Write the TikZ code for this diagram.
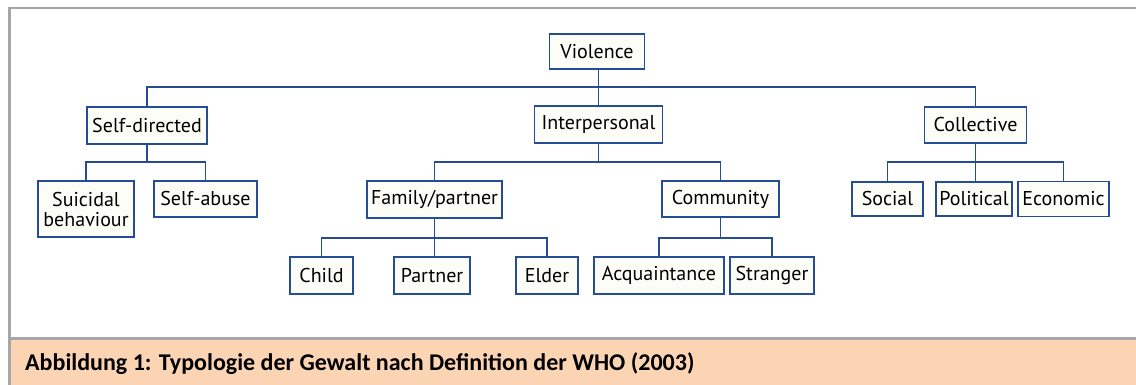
\documentclass[tikz,border=0pt]{standalone}
\usepackage{fontspec}
\setmainfont{PT Sans}
\newfontfamily\capfont{Carlito}
\definecolor{boxblue}{RGB}{38,76,150}
\definecolor{boxfill}{RGB}{253,253,247}
\definecolor{framegray}{RGB}{166,166,166}
\definecolor{peach}{RGB}{251,212,180}
\tikzset{
  tbox/.style 2 args={draw=boxblue, line width=1.8pt, fill=boxfill, inner sep=0pt,
    minimum width=#1, minimum height=#2, align=center,
    font=\fontsize{20}{20}\selectfont},
  conn/.style={draw=boxblue, line width=1.5pt},
}
\begin{document}
\begin{tikzpicture}[x=1pt,y=-1pt]
\useasboundingbox (0,0) rectangle (1136,385);
% frame and caption band
\fill[peach] (11,340) rectangle (1136,385);
\fill[framegray] (8,7) rectangle (1136,9);
\fill[framegray] (8,7) rectangle (11,385);
\fill[framegray] (11,337) rectangle (1136,340);
\node[anchor=base west, font=\capfont\bfseries\fontsize{24}{28}\selectfont, inner sep=0pt] (cap) at (25,370) {Abbildung 1: Typologie der Gewalt nach Definition der WHO (2003)};
% bus levels
\coordinate (b1) at (0,87);
\coordinate (b2) at (0,162);
\coordinate (b3) at (0,238);
% nodes
\node[tbox={95pt}{35pt}] (V) at (597,51.5) {Violence};
\node[tbox={120pt}{37pt}] (SD) at (147,125.5) {Self-directed};
\node[tbox={128pt}{37pt}] (IP) at (598.5,124.5) {Interpersonal};
\node[tbox={102pt}{36pt}] (CO) at (975.5,125) {Collective};
\node[tbox={96pt}{56pt}] (SB) at (86,209) {Suicidal\\behaviour};
\node[tbox={103pt}{36pt}] (SA) at (205.5,199) {Self-abuse};
\node[tbox={135pt}{37pt}] (FP) at (434.5,199.5) {Family/partner};
\node[tbox={117pt}{36pt}] (CM) at (720.5,199) {Community};
\node[tbox={71pt}{34pt}] (SO) at (887.5,199) {Social};
\node[tbox={76pt}{34pt}] (PO) at (974,199) {Political};
\node[tbox={91pt}{35pt}] (EC) at (1063.5,199) {Economic};
\node[tbox={63pt}{37pt}] (CH) at (321.5,275.5) {Child};
\node[tbox={76pt}{37pt}] (PA) at (432,275.5) {Partner};
\node[tbox={62pt}{37pt}] (EL) at (547,275.5) {Elder};
\node[tbox={130pt}{37pt}] (AC) at (659,275.5) {Acquaintance};
\node[tbox={84pt}{37pt}] (ST) at (772,275.5) {Stranger};
% connectors level 1
\draw[conn] (IP.north) -- (IP.north |- V.south);
\draw[conn] (SD.north) |- (b1 -| CO.north) -- (CO.north);
% self-directed
\draw[conn] (SD.south) -- (SD.south |- b2);
\draw[conn] (SB.north) |- (b2 -| SA.north) -- (SA.north);
% interpersonal
\draw[conn] (IP.south) -- (IP.south |- b2);
\draw[conn] (FP.north) |- (b2 -| CM.north) -- (CM.north);
% collective
\draw[conn] (CO.south) -- (CO.south |- PO.north);
\draw[conn] (SO.north) |- (b2 -| EC.north) -- (EC.north);
% family/partner
\draw[conn] (FP.south) -- (FP.south |- PA.north);
\draw[conn] (CH.north) |- (b3 -| EL.north) -- (EL.north);
% community
\draw[conn] (CM.south) -- (CM.south |- b3);
\draw[conn] (AC.north) |- (b3 -| ST.north) -- (ST.north);
\end{tikzpicture}
\end{document}
